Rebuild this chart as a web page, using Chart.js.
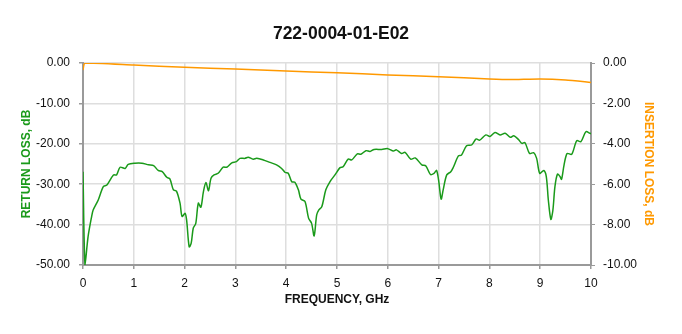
<!DOCTYPE html>
<html>
<head>
<meta charset="utf-8">
<script src="https://cdn.jsdelivr.net/npm/chart.js@4.4.1/dist/chart.umd.min.js"></script>
<style>
  html, body { margin: 0; padding: 0; background: #fff; }
  #wrap { width: 682px; height: 334px; }
</style>
</head>
<body>
<div id="wrap"><canvas id="chart" width="682" height="334"></canvas></div>
<script>
// ===============================
// DATI
// ===============================
const rlFreq = [
  0, 0.04, 0.1, 0.17, 0.2, 0.3, 0.4, 0.47, 0.6, 0.66, 0.73, 0.83, 0.89, 1.02, 1.16, 1.29, 1.39, 1.48, 1.56, 1.65,
  1.71, 1.78, 1.84, 1.91, 1.95, 2.01, 2.04, 2.09, 2.13, 2.17, 2.22, 2.27, 2.32, 2.37, 2.42, 2.47, 2.52, 2.58, 2.66, 2.76,
  2.83, 2.93, 3.02, 3.09, 3.19, 3.25, 3.35, 3.42, 3.55, 3.68, 3.81, 3.91, 3.98, 4.04, 4.11, 4.17, 4.24, 4.29, 4.37, 4.44,
  4.5, 4.55, 4.6, 4.64, 4.7, 4.78, 4.86, 4.96, 5.06, 5.12, 5.22, 5.29, 5.4, 5.47, 5.57, 5.65, 5.73, 5.88, 6.0, 6.11,
  6.17, 6.27, 6.34, 6.45, 6.54, 6.67, 6.75, 6.84, 6.91, 6.96, 7.0, 7.05, 7.09, 7.16, 7.24, 7.29, 7.39, 7.45, 7.55, 7.65,
  7.74, 7.81, 7.93, 8.01, 8.11, 8.21, 8.31, 8.41, 8.48, 8.57, 8.64, 8.7, 8.79, 8.87, 8.93, 8.99, 9.07, 9.12, 9.16, 9.21,
  9.25, 9.29, 9.34, 9.39, 9.42, 9.47, 9.53, 9.62, 9.72, 9.8, 9.9, 9.98, 10
];
const returnLoss = [
  -26.9, -50, -43, -38, -36.4, -33.9, -30.6, -30.2, -27.7, -27.7, -25.8, -26.1, -25.1, -24.8, -24.8, -25.2, -25.4, -26.6, -26.9, -28.3,
  -28.7, -31.4, -31.7, -34.7, -38, -37.2, -38.9, -45.5, -44.6, -40.9, -39.7, -34.7, -35.7, -31.9, -29.6, -31.6, -28.5, -27.7, -27.3, -25.8,
  -25.8, -24.7, -24.4, -23.6, -23.6, -23.3, -23.8, -23.6, -24.0, -24.6, -25.2, -26.1, -27.1, -27.3, -29.4, -29.5, -31.4, -33.7, -34.3, -38.4,
  -39.7, -42.8, -37.6, -36.4, -35.6, -31.4, -29.4, -27.7, -25.9, -25.7, -23.8, -24.0, -22.5, -22.6, -21.7, -21.9, -21.4, -21.4, -21.2, -21.8,
  -21.5, -22.4, -22.1, -23.8, -23.5, -25.2, -25.5, -27.6, -27.3, -26.6, -29, -33.7, -31.4, -27.7, -26.9, -25.8, -23, -22.8, -20.5, -20.3,
  -18.8, -19.1, -17.8, -18.2, -17.2, -17.8, -17.4, -18.4, -18, -18.9, -19.9, -19.7, -22.4, -22.2, -23.6, -27.3, -26.6, -28.1, -33.9, -38.7,
  -36.4, -30.6, -27.5, -28.1, -28.8, -25.2, -22.4, -22.6, -19.2, -19.5, -17, -17.4, -17.5
];

const ilFreq = [0, 0.04, 1, 2, 3, 4, 5, 6, 7, 8, 8.4, 9, 9.5, 10];
const insertionLoss = [-0.35, 0, -0.1, -0.21, -0.3, -0.4, -0.48, -0.59, -0.68, -0.79, -0.82, -0.79, -0.84, -0.96];

const xTicks = [0, 1, 2, 3, 4, 5, 6, 7, 8, 9, 10];

// ===============================
// COLORI / STILE
// ===============================
const GREEN = "#1a9a1a";
const ORANGE = "#ff9900";
const GRID = "#dedede";
const AXIS = "#9a9a9a";
const FONT = "'Liberation Sans', Arial, sans-serif";

const tickFont = { family: FONT, size: 12 };
const titleFont = { family: FONT, size: 12, weight: "bold" };

new Chart(document.getElementById("chart"), {
  type: "line",
  data: {
    datasets: [
      {
        label: "Return loss",
        data: rlFreq.map((f, i) => ({ x: f, y: returnLoss[i] })),
        borderColor: GREEN,
        borderWidth: 1.5,
        pointRadius: 0,
        tension: 0.3,
        yAxisID: "y"
      },
      {
        label: "Insertion loss",
        data: ilFreq.map((f, i) => ({ x: f, y: insertionLoss[i] })),
        borderColor: ORANGE,
        borderWidth: 1.5,
        pointRadius: 0,
        tension: 0.2,
        yAxisID: "y2"
      }
    ]
  },
  options: {
    responsive: false,
    animation: false,
    layout: { padding: 0 },
    plugins: {
      legend: { display: false },
      tooltip: { enabled: false },
      title: {
        display: true,
        text: "722-0004-01-E02",
        color: "#111",
        font: { family: FONT, size: 17.5, weight: "bold" },
        padding: { top: 24, bottom: 18 }
      }
    },
    scales: {
      x: {
        type: "linear",
        min: 0,
        max: 10,
        afterBuildTicks: s => { s.ticks = xTicks.map(v => ({ value: v })); },
        afterFit: s => { s.height = 69; },
        ticks: { color: "#111", font: tickFont, padding: 7, maxRotation: 0 },
        grid: { color: GRID, lineWidth: 1.5, tickLength: 4, tickColor: AXIS },
        border: { color: AXIS, width: 2 },
        title: {
          display: true,
          text: "FREQUENCY, GHz",
          color: "#111",
          font: titleFont,
          padding: { top: 0, bottom: 27 }
        }
      },
      y: {
        position: "left",
        min: -50,
        max: 0,
        ticks: { stepSize: 10, color: "#111", font: tickFont, padding: 9, callback: v => v.toFixed(2) },
        afterFit: s => { s.width = 83; },
        grid: { color: GRID, lineWidth: 1.5, tickLength: 4, tickColor: AXIS },
        border: { color: AXIS, width: 2 },
        title: {
          display: true,
          text: "RETURN LOSS, dB",
          color: GREEN,
          font: titleFont,
          padding: { top: 19, bottom: 0 }
        }
      },
      y2: {
        position: "right",
        min: -10,
        max: 0,
        ticks: { stepSize: 2, color: "#111", font: tickFont, padding: 8, callback: v => v.toFixed(2) },
        afterFit: s => { s.width = 91; },
        grid: { drawOnChartArea: false, tickLength: 4, tickColor: AXIS },
        border: { color: AXIS, width: 2 },
        title: {
          display: true,
          text: "INSERTION LOSS, dB",
          color: ORANGE,
          font: titleFont,
          padding: { top: 26, bottom: 0 }
        }
      }
    }
  }
});
</script>
</body>
</html>
